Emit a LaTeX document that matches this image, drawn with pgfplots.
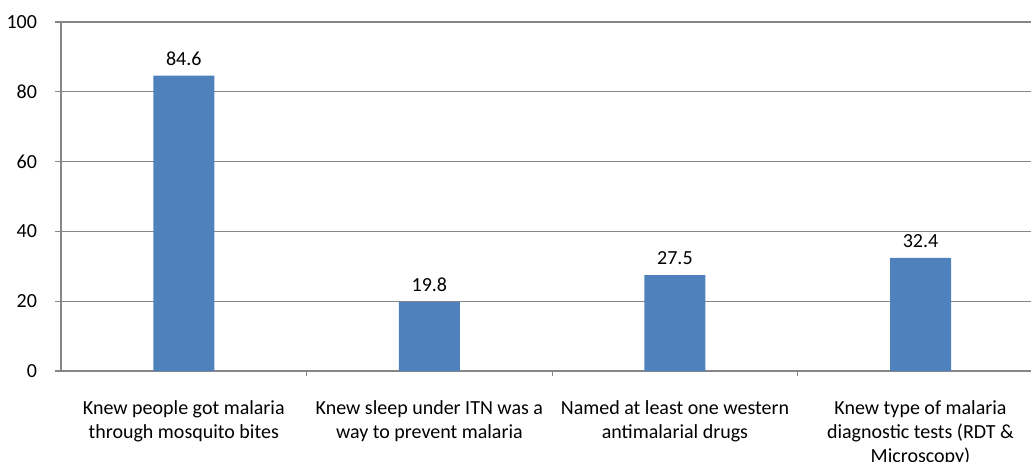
\documentclass[border=0pt]{standalone}
\usepackage{fontspec}
\setmainfont{Carlito}
\usepackage{pgfplots}
\pgfplotsset{compat=1.18}
\definecolor{barblue}{RGB}{79,129,189}
\definecolor{gridgray}{RGB}{134,134,134}
\begin{document}
\begin{tikzpicture}
\begin{axis}[
  scale only axis,
  width=727.5pt, height=261.75pt,
  at={(0,0)}, anchor=south west,
  xmin=-0.5, xmax=3.45,
  ymin=0, ymax=100,
  ytick={0,20,...,100},
  xtick={0,1,2,3},
  xticklabels={{Knew people got malaria\\through mosquito bites},
               {Knew sleep under ITN was a\\way to prevent malaria},
               {Named at least one western\\antimalarial drugs},
               {Knew type of malaria\\diagnostic tests (RDT \&\\Microscopy)}},
  minor xtick={0.5,1.5,2.5},
  major x tick style={draw=none},
  minor tick length=4pt,
  major tick length=4.5pt,
  tick align=outside,
  tick style={gridgray, line width=0.8pt},
  axis lines*=left,
  axis line style={gridgray, line width=1pt},
  ymajorgrids,
  grid style={gridgray, line width=0.8pt},
  ybar, bar width=45.75pt,
  font=\fontsize{15}{18}\selectfont,
  xticklabel style={align=center, anchor=north, yshift=-14pt},
  yticklabel style={anchor=east, xshift=-10pt},
  /pgf/number format/assume math mode=true,
  nodes near coords,
  point meta=explicit symbolic,
  every node near coord/.append style={anchor=base, yshift=8pt, font=\fontsize{15}{18}\selectfont, black},
  clip=false,
]
\addplot[fill=barblue, draw=none] coordinates {(0,84.6) [84.6] (1,19.8) [19.8] (2,27.5) [27.5] (3,32.4) [32.4]};
\end{axis}
\pgfresetboundingbox
\useasboundingbox (-45.75pt,-67.5pt) rectangle (727.5pt,278.25pt);
\end{tikzpicture}
\end{document}
